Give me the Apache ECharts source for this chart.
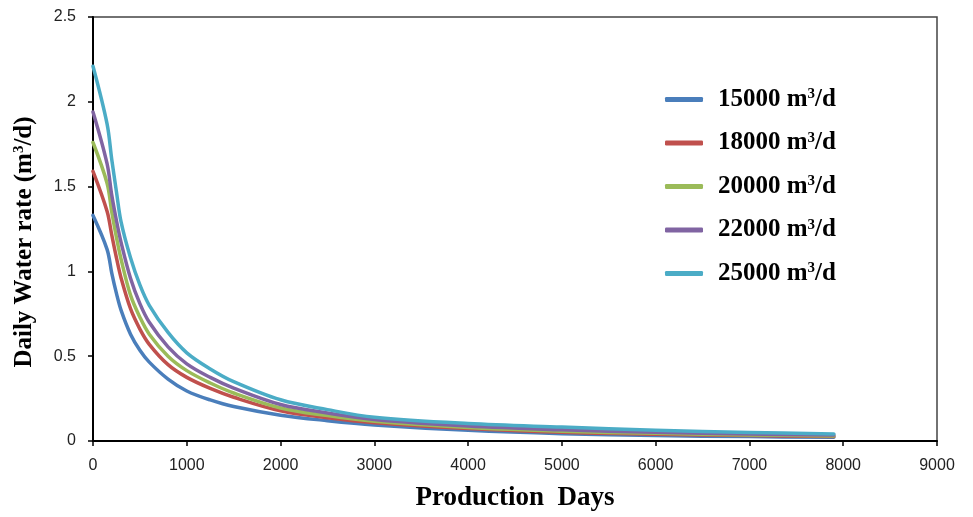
<!DOCTYPE html>
<html>
<head>
<meta charset="utf-8">
<script src="https://cdn.jsdelivr.net/npm/echarts@6/dist/echarts.min.js"></script>
<style>
  html, body { margin: 0; padding: 0; background: #fff; }
  #chart { width: 973px; height: 517px; }
</style>
</head>
<body>
<div id="chart"></div>
<script>
// Production days sampled along each decline curve
const days = [0, 150, 200, 250, 300, 400, 500, 600, 800, 1000, 1250, 1500, 2000, 2500, 3000, 4000, 5000, 6000, 7000, 7900];

// Daily water rate (m3/d) for each injection rate case
const rate15000 = [1.33, 1.13, 0.99, 0.87, 0.77, 0.63, 0.535, 0.465, 0.365, 0.295, 0.242, 0.203, 0.152, 0.12, 0.095, 0.063, 0.043, 0.032, 0.026, 0.022];
const rate18000 = [1.59, 1.355, 1.215, 1.08, 0.96, 0.78, 0.66, 0.57, 0.45, 0.375, 0.31, 0.258, 0.178, 0.137, 0.108, 0.074, 0.052, 0.04, 0.032, 0.027];
const rate20000 = [1.76, 1.52, 1.35, 1.20, 1.07, 0.86, 0.73, 0.63, 0.50, 0.415, 0.342, 0.283, 0.195, 0.15, 0.117, 0.08, 0.058, 0.045, 0.036, 0.03];
const rate22000 = [1.94, 1.635, 1.45, 1.30, 1.17, 0.96, 0.81, 0.70, 0.555, 0.455, 0.375, 0.312, 0.215, 0.165, 0.127, 0.088, 0.066, 0.051, 0.041, 0.035];
const rate25000 = [2.21, 1.87, 1.66, 1.47, 1.29, 1.08, 0.92, 0.80, 0.64, 0.52, 0.425, 0.35, 0.243, 0.185, 0.14, 0.103, 0.082, 0.063, 0.05, 0.042];

const seriesNames = ['15000', '18000', '20000', '22000', '25000'];
const seriesData = [rate15000, rate18000, rate20000, rate22000, rate25000];
const colors = ['#4A7EBB', '#C0504D', '#9BBB59', '#8064A2', '#4BACC6'];

const xTicks = { min: 0, max: 9000, interval: 1000 };
const yTicks = { min: 0, max: 2.5, interval: 0.5 };

const serif = '"Liberation Serif", "Times New Roman", serif';
const sans = '"Liberation Sans", Arial, sans-serif';

const chart = echarts.init(document.getElementById('chart'), null, { renderer: 'canvas' });

const series = seriesNames.map((name, i) => ({
  name: name,
  type: 'line',
  data: days.map((d, j) => [d, seriesData[i][j]]),
  symbol: 'none',
  smooth: 0.35,
  lineStyle: { width: 3.5, color: colors[i], cap: 'round', join: 'round' },
  itemStyle: { color: colors[i] },
  z: 2 + i
}));

chart.setOption({
  animation: false,
  backgroundColor: '#ffffff',
  grid: {
    left: 93, right: 36, top: 17, bottom: 75,
    show: true, borderColor: '#444', borderWidth: 1.5, backgroundColor: 'transparent'
  },
  legend: {
    orient: 'vertical',
    left: 665,
    top: 87,
    padding: 0,
    itemWidth: 38,
    itemHeight: 5,
    itemGap: 18.5,
    icon: 'roundRect',
    data: seriesNames.map((n, i) => ({ name: n, itemStyle: { color: colors[i] } })),
    formatter: n => n + ' m{sup|3}/d',
    textStyle: {
      fontFamily: serif,
      fontWeight: 'bold',
      fontSize: 25,
      color: '#000',
      lineHeight: 24,
      padding: [0, 0, 0, 10],
      rich: {
        sup: { fontFamily: serif, fontWeight: 'bold', fontSize: 15, color: '#000', padding: [0, 0, 10, 0] }
      }
    }
  },
  xAxis: {
    type: 'value',
    min: xTicks.min, max: xTicks.max, interval: xTicks.interval,
    name: 'Production  Days',
    nameLocation: 'middle',
    nameGap: 44,
    nameTextStyle: { fontFamily: serif, fontWeight: 'bold', fontSize: 27, color: '#000' },
    axisLine: { show: true, onZero: false, lineStyle: { color: '#000', width: 2 } },
    axisTick: { show: true, inside: false, length: 5, lineStyle: { color: '#000', width: 1.5 } },
    axisLabel: { margin: 17, fontFamily: sans, fontSize: 16, color: '#222', formatter: v => String(v) },
    splitLine: { show: false }
  },
  yAxis: {
    type: 'value',
    min: yTicks.min, max: yTicks.max, interval: yTicks.interval,
    name: 'Daily Water rate (m{sup|3}/d)',
    nameLocation: 'middle',
    nameGap: 56,
    nameRotate: 90,
    nameTextStyle: {
      fontFamily: serif, fontWeight: 'bold', fontSize: 25, color: '#000',
      padding: [0, 26, 0, 0],
      rich: { sup: { fontFamily: serif, fontWeight: 'bold', fontSize: 15, color: '#000', padding: [0, 0, 10, 0] } }
    },
    axisLine: { show: true, lineStyle: { color: '#000', width: 2 } },
    axisTick: { show: true, inside: false, length: 5, lineStyle: { color: '#000', width: 1.5 } },
    axisLabel: { margin: 17, fontFamily: sans, fontSize: 16, color: '#222', formatter: v => String(v) },
    splitLine: { show: false }
  },
  series: series
});
</script>
</body>
</html>
